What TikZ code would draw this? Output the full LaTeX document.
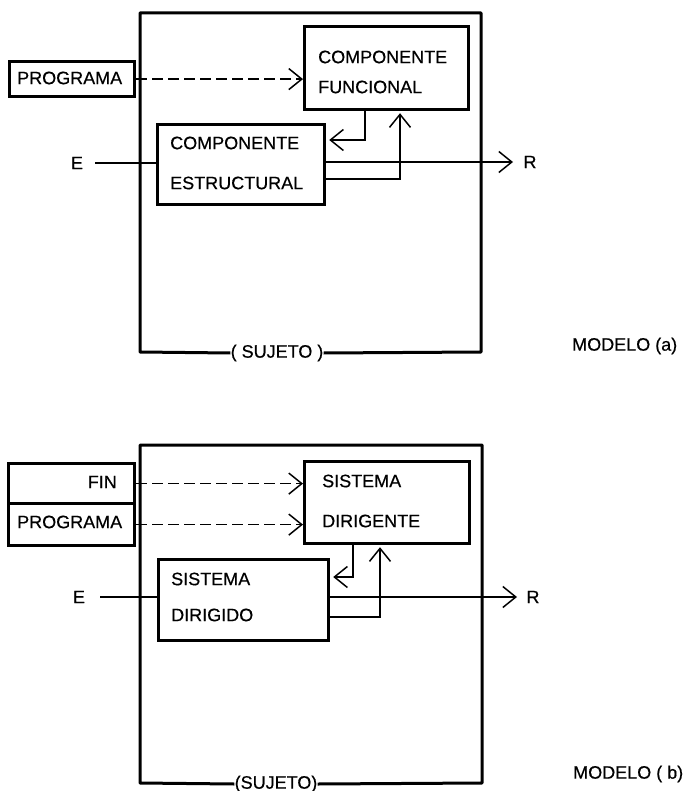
\documentclass[tikz,border=0pt]{standalone}
\usepackage{fontspec}
\setmainfont{Liberation Sans}
\newfontfamily\plotfont{Liberation Sans}[FakeBold=0.5]
\usetikzlibrary{arrows.meta}
\begin{document}
\begin{tikzpicture}[x=1pt,y=-1pt,
  box/.style={draw, line width=3.2pt, inner sep=0pt, anchor=north west},
  lbl/.style={font=\plotfont\fontsize{18}{20}\selectfont, inner sep=0pt},
  conn/.style={line width=1.5pt},
  tip/.style={-{Straight Barb[length=13pt,width=21pt,line width=1.5pt]}},
  dashconn/.style={conn, dash pattern=on 11pt off 5pt},
  frame/.style={line width=3pt, line join=round}]
\useasboundingbox (0,0) rectangle (690,791);

% ---------------- MODELO (a) ----------------
\node[lbl] (suja) at (277,353) {( SUJETO )};
\draw[frame] (suja.west) -- (140,352) -- (140,13) -- (481,13) -- (481,352) -- (suja.east);

\node[box, minimum width=125pt, minimum height=35pt] (proga) at (8,60) {};
\node[lbl, anchor=west] (progat) at (17,78) {PROGRAMA};

\node[box, minimum width=164pt, minimum height=83pt] (fun) at (303,25) {};
\node[lbl, anchor=west] (funt1) at (318,57) {COMPONENTE};
\node[lbl, anchor=west] (funt2) at (318,87) {FUNCIONAL};

\node[box, minimum width=167pt, minimum height=80pt] (est) at (156,123) {};
\node[lbl, anchor=west] (estt1) at (170,143) {COMPONENTE};
\node[lbl, anchor=west] (estt2) at (170,183) {ESTRUCTURAL};

\draw[dashconn, tip] (proga.east) -- (proga.east -| fun.west);

\node[lbl] (Ea) at (77,163) {E};
\coordinate (inA) at (95,163);
\draw[conn] (inA) -- (inA -| est.west);

\coordinate (fbA) at (365,140);
\draw[conn, tip, shorten >=3pt] (fun.south -| fbA) -- (fbA) -- (fbA -| est.east);

\node[lbl] (Ra) at (530,162) {R};
\coordinate (outA) at (513,162);
\draw[conn, tip] (est.east |- outA) -- (outA);

\coordinate (ffA) at (400,179);
\draw[conn, tip, shorten >=2pt] (est.east |- ffA) -- (ffA) -- (ffA |- fun.south);

\node[lbl, anchor=west] (moda) at (572,346) {MODELO (a)};

% ---------------- MODELO (b) ----------------
\node[lbl] (sujb) at (276,784) {(SUJETO)};
\draw[frame] (sujb.west) -- (140,783) -- (140,445) -- (482,445) -- (482,783) -- (sujb.east);

\node[box, minimum width=126pt, minimum height=40pt] (fin) at (7,462) {};
\node[lbl, anchor=east] (fint) at (117,482) {FIN};
\node[box, minimum width=126pt, minimum height=42pt] (progb) at (7,502) {};
\node[lbl, anchor=west] (progbt) at (17,522) {PROGRAMA};

\node[box, minimum width=165pt, minimum height=82pt] (dir) at (303,460) {};
\node[lbl, anchor=west] (dirt1) at (322,481) {SISTEMA};
\node[lbl, anchor=west] (dirt2) at (322,521) {DIRIGENTE};

\node[box, minimum width=170pt, minimum height=81pt] (dgd) at (157,558) {};
\node[lbl, anchor=west] (dgdt1) at (171,579) {SISTEMA};
\node[lbl, anchor=west] (dgdt2) at (171,615) {DIRIGIDO};

\draw[dashconn, tip] (fin.east) -- (fin.east -| dir.west);
\draw[dashconn, tip] (progb.east) -- (progb.east -| dir.west);

\node[lbl] (Eb) at (79,597) {E};
\coordinate (inB) at (100,597);
\draw[conn] (inB) -- (inB -| dgd.west);

\coordinate (fbB) at (353,577);
\draw[conn, tip, shorten >=3pt] (dir.south -| fbB) -- (fbB) -- (fbB -| dgd.east);

\node[lbl] (Rb) at (533,597) {R};
\coordinate (outB) at (517,597);
\draw[conn, tip] (dgd.east |- outB) -- (outB);

\coordinate (ffB) at (380,617);
\draw[conn, tip, shorten >=2pt] (dgd.east |- ffB) -- (ffB) -- (ffB |- dir.south);

\node[lbl, anchor=west] (modb) at (573,774) {MODELO ( b)};
\end{tikzpicture}
\end{document}
